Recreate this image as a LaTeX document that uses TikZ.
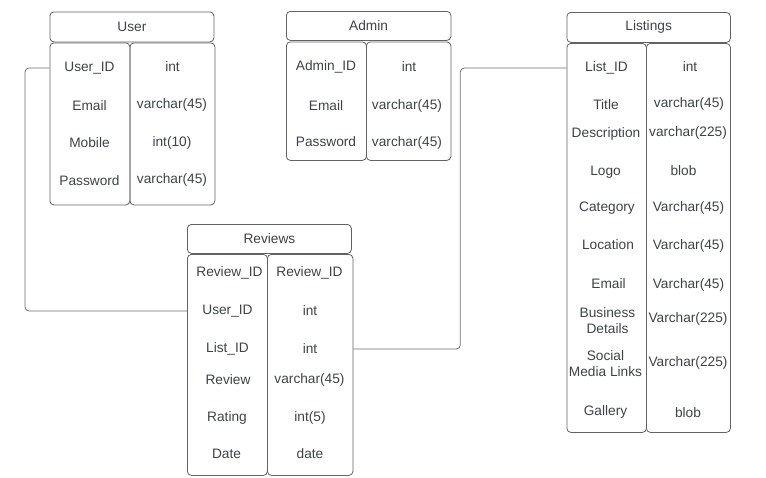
\documentclass[tikz,border=0pt]{standalone}
\usepackage{fontspec}
\setmainfont{Liberation Sans}
\usetikzlibrary{calc}
\definecolor{tableLine}{RGB}{96,98,102}
\definecolor{tableText}{RGB}{62,66,72}
\definecolor{linkLine}{RGB}{108,110,114}

\tikzset{
  tablehead/.style={draw=tableLine,line width=0.8pt,rounded corners=4pt,anchor=north west,inner sep=0pt,text=tableText,font=\fontsize{13.7}{16}\selectfont},
  tablecol/.style={draw=tableLine,line width=0.8pt,rounded corners=4pt,anchor=north west,inner sep=0pt},
  field/.style={text=tableText,inner sep=0pt,align=center,yshift=-1pt,font=\fontsize{13.7}{16}\selectfont},
  link/.style={draw=linkLine,line width=0.8pt,rounded corners=4pt}
}

\begin{document}
\begin{tikzpicture}[x=1pt,y=-1pt]
\useasboundingbox (0,0) rectangle (766,477);

% User
\node[tablehead,minimum width=164pt,minimum height=30pt] (userHead) at (49.5,11.5) {User};
\node[tablecol,minimum width=80pt,minimum height=162pt] (userKey) at (49.5,42.5) {};
\node[tablecol,minimum width=85pt,minimum height=162pt] (userVal) at (129.5,42.5) {};
\node[field] (userId) at (89.5,67) {User\_ID};
\node[field] (userMail) at (89.5,105) {Email};
\node[field] (userMobile) at (89.5,142) {Mobile};
\node[field] (userPass) at (89.5,180) {Password};
\node[field] (userIdT) at (172.5,66) {int};
\node[field] (userMailT) at (172,104) {varchar(45)};
\node[field] (userMobileT) at (172,142) {int(10)};
\node[field] (userPassT) at (172,179) {varchar(45)};

% Admin
\node[tablehead,minimum width=164.5pt,minimum height=29pt] (adminHead) at (286,11) {Admin};
\node[tablecol,minimum width=80pt,minimum height=118.5pt] (adminKey) at (286,41.5) {};
\node[tablecol,minimum width=84.5pt,minimum height=118.5pt] (adminVal) at (366,41.5) {};
\node[field] (adminId) at (326,66) {Admin\_ID};
\node[field] (adminMail) at (326,105) {Email};
\node[field] (adminPass) at (326,141) {Password};
\node[field] (adminIdT) at (409,66) {int};
\node[field] (adminMailT) at (407,105) {varchar(45)};
\node[field] (adminPassT) at (407,142) {varchar(45)};

% Listings
\node[tablehead,minimum width=163.5pt,minimum height=30pt] (listHead) at (566.5,12) {Listings};
\node[tablecol,minimum width=79.5pt,minimum height=389pt] (listKey) at (566.5,43) {};
\node[tablecol,minimum width=84pt,minimum height=389pt] (listVal) at (646,43) {};
\node[field] (listId) at (606.5,67) {List\_ID};
\node[field] (listTitle) at (606,104) {Title};
\node[field] (listDesc) at (606,133) {Description};
\node[field] (listLogo) at (605.5,171) {Logo};
\node[field] (listCat) at (607,207) {Category};
\node[field] (listLoc) at (608,244) {Location};
\node[field] (listMail) at (608.5,283) {Email};
\node[field] (listBiz) at (607.5,320) {Business\\Details};
\node[field] (listSocial) at (605.5,363) {Social\\Media Links};
\node[field] (listGallery) at (605.5,411) {Gallery};
\node[field] (listIdT) at (690,66) {int};
\node[field] (listTitleT) at (689,103) {varchar(45)};
\node[field] (listDescT) at (688,132) {varchar(225)};
\node[field] (listLogoT) at (683.5,170) {blob};
\node[field] (listCatT) at (688.5,207) {Varchar(45)};
\node[field] (listLocT) at (688.5,245) {Varchar(45)};
\node[field] (listMailT) at (688.5,284) {Varchar(45)};
\node[field] (listBizT) at (688,318) {Varchar(225)};
\node[field] (listSocialT) at (688,362) {Varchar(225)};
\node[field] (listGalleryT) at (688,412) {blob};

% Reviews
\node[tablehead,minimum width=164pt,minimum height=29pt] (revHead) at (187,224) {Reviews};
\node[tablecol,minimum width=80pt,minimum height=221pt] (revKey) at (187,254) {};
\node[tablecol,minimum width=85.5pt,minimum height=221pt] (revVal) at (267,254) {};
\node[field] (revId) at (229.5,272) {Review\_ID};
\node[field] (revUser) at (227.5,310) {User\_ID};
\node[field] (revList) at (227.5,348) {List\_ID};
\node[field] (revText) at (228,379) {Review};
\node[field] (revRating) at (227,417) {Rating};
\node[field] (revDate) at (226.5,453) {Date};
\node[field] (revIdT) at (309.5,272) {Review\_ID};
\node[field] (revUserT) at (310,310) {int};
\node[field] (revListT) at (310,348) {int};
\node[field] (revTextT) at (309.5,379) {varchar(45)};
\node[field] (revRatingT) at (310,417) {int(5)};
\node[field] (revDateT) at (310,453) {date};

% links
\draw[link] (userKey.west |- userId) -- ++(-24.5,0) |- (revKey.west |- revUser);
\draw[link] (revVal.east |- revList) -- ++(107,0) |- (listKey.west |- listId);
\end{tikzpicture}
\end{document}
